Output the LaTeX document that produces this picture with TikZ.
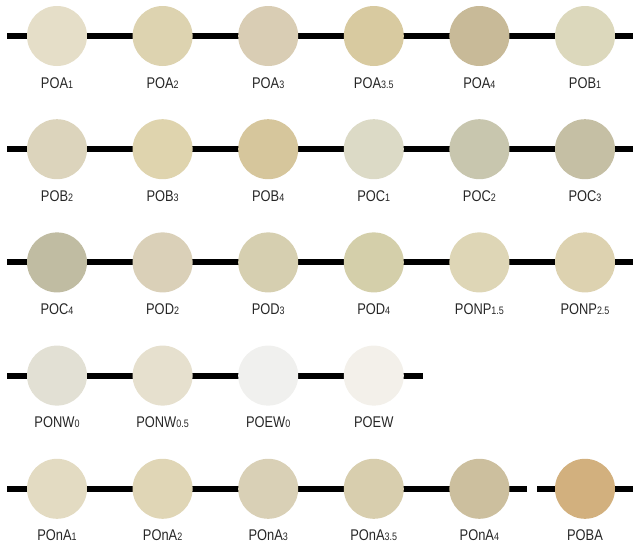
\documentclass[tikz,border=0pt]{standalone}
\usepackage{fontspec}
\setmainfont{Liberation Sans}[FakeStretch=0.83]
\usetikzlibrary{backgrounds}
\tikzstyle{swatchPlate} = [x = 1pt, y = -1pt]
\definecolor{labelColor}{RGB}{38,38,38}
\definecolor{shadeOAone}{HTML}{E5DEC8}
\definecolor{shadeOAtwo}{HTML}{DDD3B0}
\definecolor{shadeOAthree}{HTML}{D9CDB4}
\definecolor{shadeOAthreeHalf}{HTML}{D8CAA0}
\definecolor{shadeOAfour}{HTML}{C8BA98}
\definecolor{shadeOBone}{HTML}{DCD8BC}
\definecolor{shadeOBtwo}{HTML}{DCD4BC}
\definecolor{shadeOBthree}{HTML}{DFD4AE}
\definecolor{shadeOBfour}{HTML}{D6C69C}
\definecolor{shadeOCone}{HTML}{DCDAC6}
\definecolor{shadeOCtwo}{HTML}{C8C6AE}
\definecolor{shadeOCthree}{HTML}{C5BFA4}
\definecolor{shadeOCfour}{HTML}{C0BCA2}
\definecolor{shadeODtwo}{HTML}{DAD0B8}
\definecolor{shadeODthree}{HTML}{D6CFB0}
\definecolor{shadeODfour}{HTML}{D4CFAA}
\definecolor{shadeNPone}{HTML}{DED6B6}
\definecolor{shadeNPtwo}{HTML}{DDD2B0}
\definecolor{shadeNWzero}{HTML}{E2E0D4}
\definecolor{shadeNWhalf}{HTML}{E6E0CE}
\definecolor{shadeEWzero}{HTML}{F0F0EE}
\definecolor{shadeEW}{HTML}{F3F0EA}
\definecolor{shadeNAone}{HTML}{E3DBC2}
\definecolor{shadeNAtwo}{HTML}{E0D6B6}
\definecolor{shadeNAthree}{HTML}{D9D0B6}
\definecolor{shadeNAthreeHalf}{HTML}{D8CEAE}
\definecolor{shadeNAfour}{HTML}{CCBF9E}
\definecolor{shadeBA}{HTML}{D2B07E}
\tikzstyle{swatchStyle} = [circle, minimum size = 60pt, inner sep = 0pt]
\tikzstyle{rodLine} = [color=black, line width = 6pt]
\tikzstyle{swatchText} = [anchor = base, inner sep = 0pt, text = labelColor, font = \fontsize{15.5}{15.5}\selectfont]
\newcommand{\shadeSub}[1]{{\fontsize{10.8}{10.8}\selectfont #1}}
\newcommand{\swatch}[5]{
  \node [swatchStyle, fill = #4] (#1) at ({57 + 105.6 * #2}, {36 + 113.2 * #3}) {};
  \node [swatchText] (#1Label) at ({57 + 105.6 * #2}, {88 + 113.2 * #3}) {#5};
}

\begin{document}
\begin{tikzpicture}[swatchPlate]
  \useasboundingbox (0,0) rectangle (633,549);

  \swatch{oaOne}{0}{0}{shadeOAone}{POA\shadeSub{1}}
  \swatch{oaTwo}{1}{0}{shadeOAtwo}{POA\shadeSub{2}}
  \swatch{oaThree}{2}{0}{shadeOAthree}{POA\shadeSub{3}}
  \swatch{oaThreeHalf}{3}{0}{shadeOAthreeHalf}{POA\shadeSub{3.5}}
  \swatch{oaFour}{4}{0}{shadeOAfour}{POA\shadeSub{4}}
  \swatch{obOne}{5}{0}{shadeOBone}{POB\shadeSub{1}}

  \swatch{obTwo}{0}{1}{shadeOBtwo}{POB\shadeSub{2}}
  \swatch{obThree}{1}{1}{shadeOBthree}{POB\shadeSub{3}}
  \swatch{obFour}{2}{1}{shadeOBfour}{POB\shadeSub{4}}
  \swatch{ocOne}{3}{1}{shadeOCone}{POC\shadeSub{1}}
  \swatch{ocTwo}{4}{1}{shadeOCtwo}{POC\shadeSub{2}}
  \swatch{ocThree}{5}{1}{shadeOCthree}{POC\shadeSub{3}}

  \swatch{ocFour}{0}{2}{shadeOCfour}{POC\shadeSub{4}}
  \swatch{odTwo}{1}{2}{shadeODtwo}{POD\shadeSub{2}}
  \swatch{odThree}{2}{2}{shadeODthree}{POD\shadeSub{3}}
  \swatch{odFour}{3}{2}{shadeODfour}{POD\shadeSub{4}}
  \swatch{npOne}{4}{2}{shadeNPone}{PONP\shadeSub{1.5}}
  \swatch{npTwo}{5}{2}{shadeNPtwo}{PONP\shadeSub{2.5}}

  \swatch{nwZero}{0}{3}{shadeNWzero}{PONW\shadeSub{0}}
  \swatch{nwHalf}{1}{3}{shadeNWhalf}{PONW\shadeSub{0.5}}
  \swatch{ewZero}{2}{3}{shadeEWzero}{POEW\shadeSub{0}}
  \swatch{ew}{3}{3}{shadeEW}{POEW}

  \swatch{naOne}{0}{4}{shadeNAone}{POnA\shadeSub{1}}
  \swatch{naTwo}{1}{4}{shadeNAtwo}{POnA\shadeSub{2}}
  \swatch{naThree}{2}{4}{shadeNAthree}{POnA\shadeSub{3}}
  \swatch{naThreeHalf}{3}{4}{shadeNAthreeHalf}{POnA\shadeSub{3.5}}
  \swatch{naFour}{4}{4}{shadeNAfour}{POnA\shadeSub{4}}
  \swatch{ba}{5}{4}{shadeBA}{POBA}

  % rods behind the swatches
  \begin{pgfonlayer}{background}
    \foreach \row/\rowEnd in {0/633, 1/633, 2/633, 3/423, 4/633} {
      \coordinate (rodStart\row) at (7, {36 + 113.2 * \row});
      \coordinate (rodEnd\row) at (\rowEnd, {36 + 113.2 * \row});
    }
    \foreach \row in {0,...,3} {
      \draw [rodLine] (rodStart\row) -- (rodEnd\row);
    }
    \coordinate (rodBreakLeft) at (527, {36 + 113.2 * 4});
    \coordinate (rodBreakRight) at (537, {36 + 113.2 * 4});
    \draw [rodLine] (rodStart4) -- (rodBreakLeft);
    \draw [rodLine] (rodBreakRight) -- (rodEnd4);
  \end{pgfonlayer}
\end{tikzpicture}
\end{document}
